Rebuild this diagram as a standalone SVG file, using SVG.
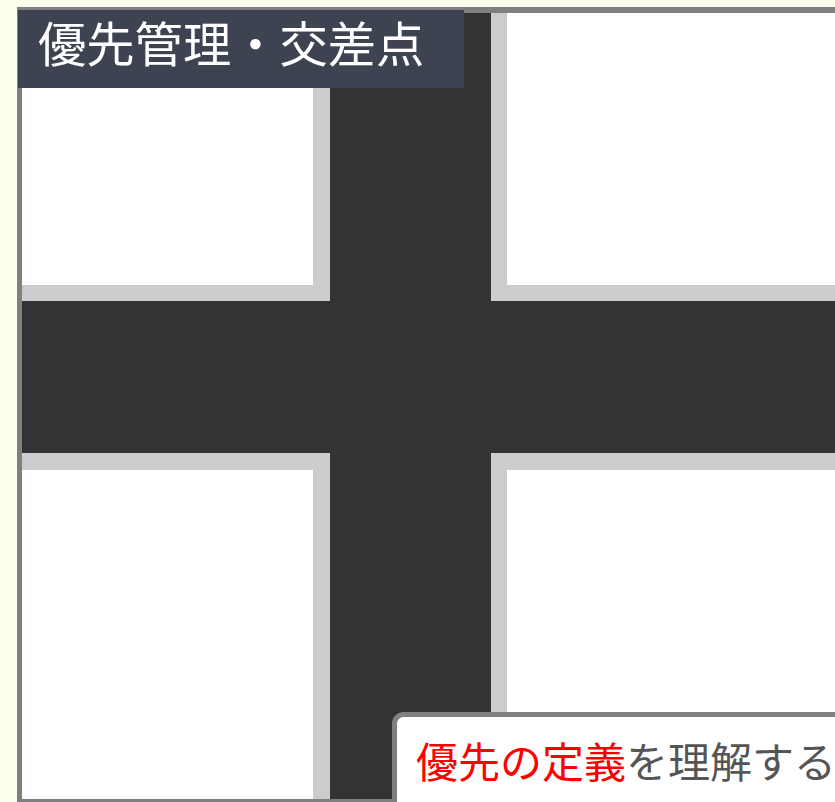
<svg xmlns="http://www.w3.org/2000/svg" width="835" height="802" viewBox="0 0 835 802">
  <style>
    .curb { fill: #cccccc; }
    .road { fill: #333333; }
    .jp { font-family: "Noto Sans CJK JP", "Noto Sans", sans-serif; }
  </style>
  <rect x="0" y="0" width="835" height="802" fill="#fffff0"/>
  <g id="frame">
    <rect x="17" y="7" width="818" height="795" fill="#808080"/>
    <rect x="22" y="13" width="813" height="786" fill="#ffffff"/>
  </g>
  <g id="intersection">
    <rect class="curb" x="313" y="13" width="194" height="786"/>
    <rect class="curb" x="22" y="285" width="813" height="185"/>
    <rect class="road" x="330" y="13" width="161" height="786"/>
    <rect class="road" x="22" y="301" width="813" height="152"/>
  </g>
  <g id="title">
    <rect x="18" y="10" width="446" height="78" fill="#3d4350"/>
    <text class="jp" x="38" y="62" font-size="48.3" fill="#ffffff">優先管理・交差点</text>
  </g>
  <g id="caption">
    <rect x="394.5" y="714.5" width="470" height="120" rx="9" ry="9" fill="#ffffff" stroke="#808080" stroke-width="5"/>
    <text class="jp" x="416" y="778" font-size="42"><tspan fill="#ff0000">優先の定義</tspan><tspan fill="#555555">を理解する</tspan></text>
  </g>
</svg>
